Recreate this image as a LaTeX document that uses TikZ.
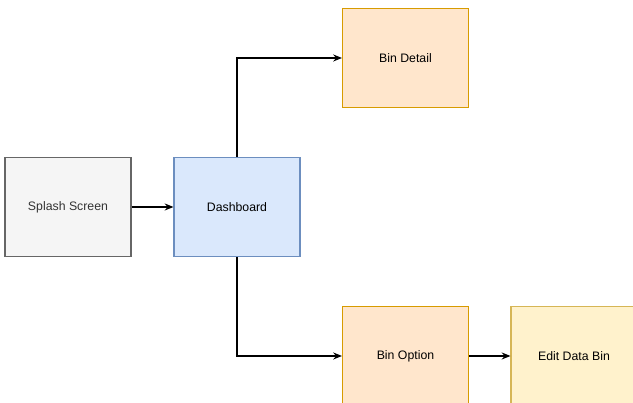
\documentclass[tikz,border=0pt]{standalone}
\usepackage{xcolor}
\usepackage{fontspec}
\setmainfont{Liberation Sans}
\usepackage{tikz}
\usetikzlibrary{arrows.meta}
\definecolor{splashfill}{HTML}{F5F5F5}
\definecolor{splashline}{HTML}{666666}
\definecolor{dashfill}{HTML}{DAE8FC}
\definecolor{dashline}{HTML}{6C8EBF}
\definecolor{binfill}{HTML}{FFE6CC}
\definecolor{binline}{HTML}{D79B00}
\definecolor{editfill}{HTML}{FFF2CC}
\definecolor{editline}{HTML}{D6B656}
\definecolor{textgray}{HTML}{333333}
\tikzset{every node/.append style={font=\fontsize{7pt}{8pt}\selectfont},
  screen/.style={draw,line width=0.6pt,minimum width=2.52cm,minimum height=1.98cm,inner sep=0pt},
  flow/.style={->,line width=0.6pt,black}}

\begin{document}
\begin{tikzpicture}[>={Stealth[length=5pt,width=4pt]},x=1cm,y=1cm]
  \useasboundingbox (0,0) rectangle (12.66,8.06);
  \clip (0,0) rectangle (12.66,8.06);
  \node[screen,fill=splashfill,draw=splashline,text=textgray] (splash) at (1.36,3.92) {Splash Screen};
  \node[screen,fill=dashfill,draw=dashline] (dash) at (4.74,3.92) {Dashboard};
  \node[screen,fill=binfill,draw=binline] (detail) at (8.11,6.90) {Bin Detail};
  \node[screen,fill=binfill,draw=binline] (option) at (8.11,0.94) {Bin Option};
  \node[screen,fill=editfill,draw=editline] (edit) at (11.48,0.94) {Edit Data Bin};
  \draw[flow] (splash) -- (dash);
  \draw[flow] (dash.north) |- (detail.west);
  \draw[flow] (dash.south) |- (option.west);
  \draw[flow] (option) -- (edit);
\end{tikzpicture}
\end{document}
